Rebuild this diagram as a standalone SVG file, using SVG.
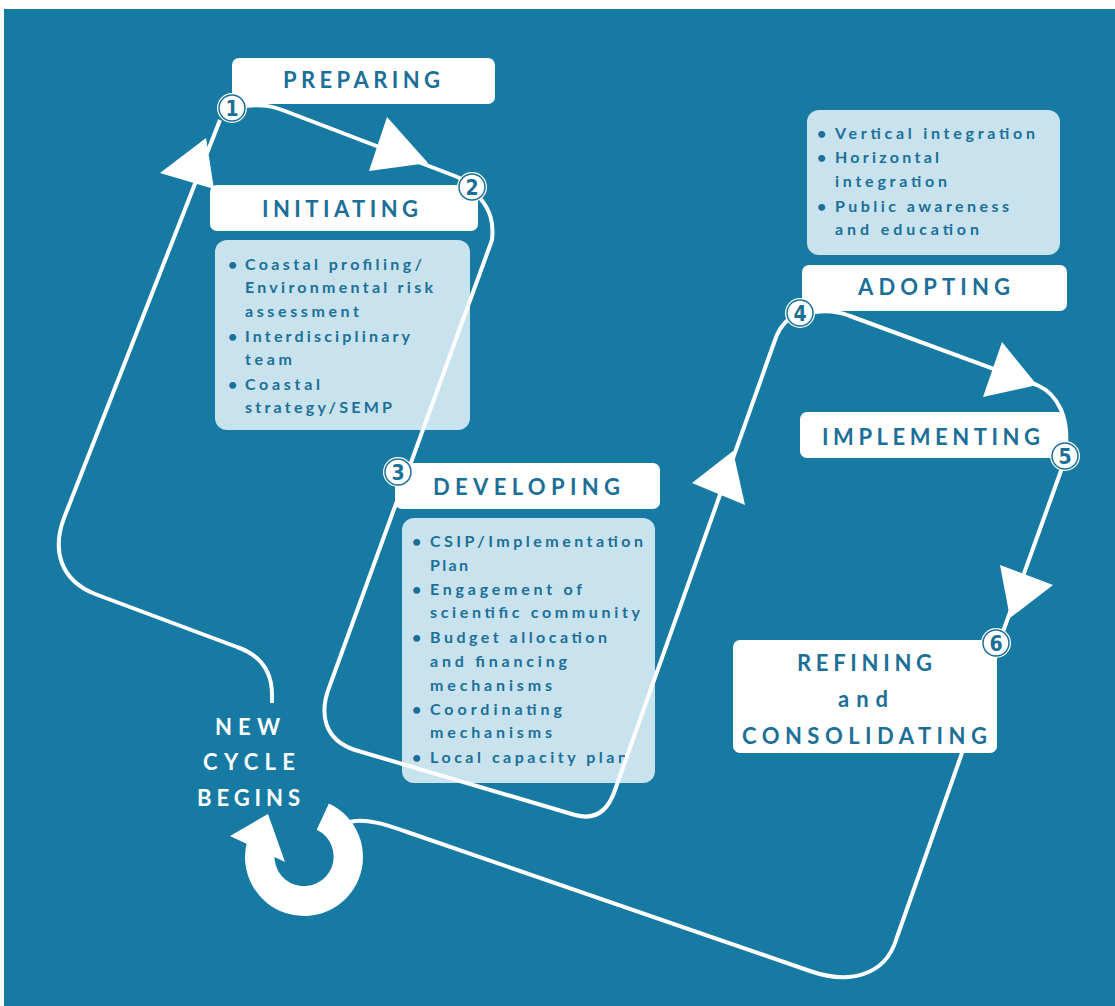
<svg xmlns="http://www.w3.org/2000/svg" width="1115" height="1006" viewBox="0 0 1115 1006">
<defs>
<style>
.bg{fill:#177aa3}
.lbl{fill:#ffffff}
.info{fill:#c8e2ee}
.hd{font-family:Lato,'Liberation Sans',sans-serif;font-weight:700;font-size:22px;fill:#1b6f98}
.wh{font-family:Lato,'Liberation Sans',sans-serif;font-weight:700;font-size:22px;fill:#ffffff}
.tx{font-family:Lato,'Liberation Sans',sans-serif;font-weight:700;font-size:16px;fill:#1b6f98}
.conn{stroke:#ffffff;stroke-width:4;fill:none;stroke-linecap:round;stroke-linejoin:round}
.ah{fill:#ffffff}
.cw{fill:#ffffff}
.ci{fill:none;stroke:#1b6f98;stroke-width:1.5}
.num{font-family:'DejaVu Sans Condensed','Liberation Sans',sans-serif;font-weight:700;font-size:21px;fill:#1b6f98;text-anchor:middle}
</style>
</defs>
<rect width="1115" height="1006" fill="#ffffff"/>
<rect class="bg" x="4" y="9" width="1111" height="997"/>

<g id="info-initiating">
<rect class="info" x="215" y="240" width="255" height="190" rx="12"/>
<text class="tx" x="228" y="270">•</text>
<text class="tx" x="245" y="270" textLength="177" lengthAdjust="spacing">Coastal profiling/</text>
<text class="tx" x="245" y="293" textLength="188" lengthAdjust="spacing">Environmental risk</text>
<text class="tx" x="245" y="317" textLength="114" lengthAdjust="spacing">assessment</text>
<text class="tx" x="228" y="342">•</text>
<text class="tx" x="245" y="342" textLength="165" lengthAdjust="spacing">Interdisciplinary</text>
<text class="tx" x="245" y="365" textLength="47" lengthAdjust="spacing">team</text>
<text class="tx" x="228" y="390">•</text>
<text class="tx" x="245" y="390" textLength="75" lengthAdjust="spacing">Coastal</text>
<text class="tx" x="245" y="413" textLength="147" lengthAdjust="spacing">strategy/SEMP</text>
</g>

<g id="info-developing">
<rect class="info" x="402" y="518" width="253" height="265" rx="12"/>
<text class="tx" x="412" y="547">•</text>
<text class="tx" x="430" y="547" textLength="213" lengthAdjust="spacing">CSIP/Implementation</text>
<text class="tx" x="430" y="571" textLength="38" lengthAdjust="spacing">Plan</text>
<text class="tx" x="412" y="595">•</text>
<text class="tx" x="430" y="595" textLength="152" lengthAdjust="spacing">Engagement of</text>
<text class="tx" x="430" y="618" textLength="210" lengthAdjust="spacing">scientific community</text>
<text class="tx" x="412" y="643">•</text>
<text class="tx" x="430" y="643" textLength="177" lengthAdjust="spacing">Budget allocation</text>
<text class="tx" x="430" y="667" textLength="137" lengthAdjust="spacing">and financing</text>
<text class="tx" x="430" y="691" textLength="122" lengthAdjust="spacing">mechanisms</text>
<text class="tx" x="412" y="715">•</text>
<text class="tx" x="430" y="715" textLength="132" lengthAdjust="spacing">Coordinating</text>
<text class="tx" x="430" y="738" textLength="122" lengthAdjust="spacing">mechanisms</text>
<text class="tx" x="412" y="763">•</text>
<text class="tx" x="430" y="763" textLength="197" lengthAdjust="spacing">Local capacity plan</text>
</g>

<g id="info-adopting">
<rect class="info" x="807" y="110" width="253" height="145" rx="12"/>
<text class="tx" x="817" y="139">•</text>
<text class="tx" x="835" y="139" textLength="200" lengthAdjust="spacing">Vertical integration</text>
<text class="tx" x="817" y="163">•</text>
<text class="tx" x="835" y="163" textLength="104" lengthAdjust="spacing">Horizontal</text>
<text class="tx" x="835" y="187" textLength="112" lengthAdjust="spacing">integration</text>
<text class="tx" x="817" y="212">•</text>
<text class="tx" x="835" y="212" textLength="174" lengthAdjust="spacing">Public awareness</text>
<text class="tx" x="835" y="235" textLength="144" lengthAdjust="spacing">and education</text>
</g>

<g id="connectors">
<path class="conn" d="M 246 106 C 262 104 272 106 285 111 L 455 176 C 462 179 466 181 470 185"/>
<path class="conn" d="M 480 198 C 490 210 494 222 492 240 L 330 685 C 318 715 325 740 355 750 L 575 815 C 600 822 610 805 615 790 L 775 340 C 780 325 790 316 800 314"/>
<path class="conn" d="M 815 312 C 830 310 840 312 850 316 L 1037 385 C 1060 395 1068 420 1066 445"/>
<path class="conn" d="M 1062 468 L 1000 640"/>
<path class="conn" d="M 962 753 L 896 940 C 885 975 850 985 810 971 L 410 833 C 385 824 365 818 350 822"/>
<path class="conn" style="stroke-linecap:butt" d="M 272 703 L 272 695 C 272 670 260 655 237 647 L 95 594 C 60 580 52 550 64 518 L 220 120"/>
<polygon class="ah" points="387,117 369,171 428,163"/>
<polygon class="ah" points="160,173 206,138 214,189"/>
<polygon class="ah" points="692,483 733,451 745,505"/>
<polygon class="ah" points="1002,342 983,397 1037,385"/>
<polygon class="ah" points="1000,565 1053,585 1010,618"/>
</g>

<g id="cycle-arrow">
<path class="cw" d="M 328.9 803.5 A 59 59 0 1 1 247 841.7 L 275.4 849.3 A 29.6 29.6 0 1 0 316.7 829.8 Z"/>
<polygon class="cw" points="230,836 268,814 285,862"/>
</g>

<g id="node-preparing">
<rect class="lbl" x="232" y="58" width="263" height="46" rx="7"/>
<text class="hd" x="283" y="88" textLength="157" lengthAdjust="spacing">PREPARING</text>
</g>
<g id="node-initiating">
<rect class="lbl" x="210" y="185" width="268" height="46" rx="7"/>
<text class="hd" x="262" y="217" textLength="156" lengthAdjust="spacing">INITIATING</text>
</g>
<g id="node-developing">
<rect class="lbl" x="395" y="463" width="265" height="46" rx="7"/>
<text class="hd" x="433" y="495" textLength="187" lengthAdjust="spacing">DEVELOPING</text>
</g>
<g id="node-adopting">
<rect class="lbl" x="802" y="265" width="265" height="46" rx="7"/>
<text class="hd" x="858" y="295" textLength="152" lengthAdjust="spacing">ADOPTING</text>
</g>
<g id="node-implementing">
<rect class="lbl" x="800" y="412" width="265" height="46" rx="7"/>
<text class="hd" x="822" y="445" textLength="218" lengthAdjust="spacing">IMPLEMENTING</text>
</g>
<g id="node-refining">
<rect class="lbl" x="733" y="640" width="264" height="113" rx="7"/>
<text class="hd" x="797" y="671" textLength="135" lengthAdjust="spacing">REFINING</text>
<text class="hd" x="838" y="707" textLength="50" lengthAdjust="spacing">and</text>
<text class="hd" x="742" y="744" textLength="245" lengthAdjust="spacing">CONSOLIDATING</text>
</g>
<g id="node-new-cycle">
<text class="wh" x="215" y="735" textLength="65" lengthAdjust="spacing">NEW</text>
<text class="wh" x="203" y="770" textLength="92" lengthAdjust="spacing">CYCLE</text>
<text class="wh" x="197" y="806" textLength="103" lengthAdjust="spacing">BEGINS</text>
</g>

<g id="step-1"><circle class="cw" cx="232" cy="108" r="15"/><circle class="ci" cx="232" cy="108" r="13"/><text class="num" x="232" y="115.5">1</text></g>
<g id="step-2"><circle class="cw" cx="472" cy="187" r="15"/><circle class="ci" cx="472" cy="187" r="13"/><text class="num" x="472" y="194.5">2</text></g>
<g id="step-3"><circle class="cw" cx="398" cy="472" r="15"/><circle class="ci" cx="398" cy="472" r="13"/><text class="num" x="398" y="479.5">3</text></g>
<g id="step-4"><circle class="cw" cx="800" cy="313" r="15"/><circle class="ci" cx="800" cy="313" r="13"/><text class="num" x="800" y="320.5">4</text></g>
<g id="step-5"><circle class="cw" cx="1065" cy="456" r="15"/><circle class="ci" cx="1065" cy="456" r="13"/><text class="num" x="1065" y="463.5">5</text></g>
<g id="step-6"><circle class="cw" cx="996" cy="643" r="15"/><circle class="ci" cx="996" cy="643" r="13"/><text class="num" x="996" y="650.5">6</text></g>
</svg>
